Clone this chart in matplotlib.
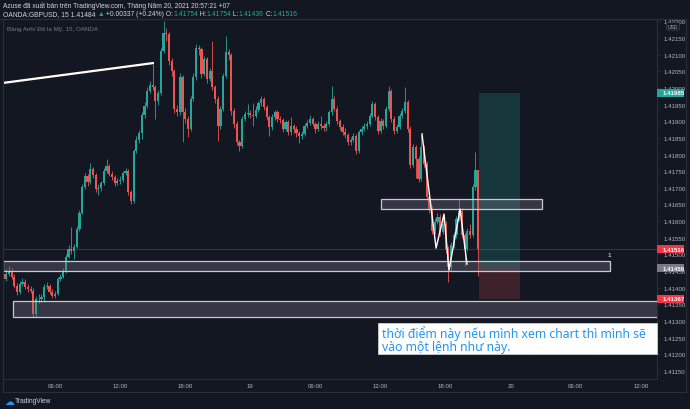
"""TradingView-style GBPUSD 15m chart with zones, position tool and a note."""

import matplotlib
matplotlib.use("Agg")
import matplotlib.pyplot as plt
from matplotlib.lines import Line2D
from matplotlib.patches import Rectangle
import numpy as np

plt.rcParams["font.family"] = ["Liberation Sans", "DejaVu Sans"]

BG = "#131722"
UP = "#26a69a"
DOWN = "#ef5350"
FRAME = "#2a2e39"
TXT = "#b2b5be"

# ---- data (15 minute candles, first candle at 18 May 01:15) ----
first_open = 1.41440
close = [
    1.41427, 1.41442, 1.41451, 1.41433, 1.41406, 1.41388, 1.41412, 1.41418, 1.41403, 1.41397,
    1.41391, 1.41322, 1.41367, 1.41365, 1.41373, 1.41403, 1.41406, 1.41388, 1.41376, 1.41382,
    1.41427, 1.41433, 1.41451, 1.41493, 1.41517, 1.41511, 1.41523, 1.41577, 1.41625, 1.41703,
    1.41736, 1.41718, 1.41757, 1.41739, 1.41697, 1.41700, 1.41715, 1.41751, 1.41766, 1.41742,
    1.41733, 1.41715, 1.41721, 1.41724, 1.41745, 1.41751, 1.41688, 1.41661, 1.41811, 1.41844,
    1.41865, 1.41919, 1.41946, 1.41991, 1.42009, 1.42003, 1.41961, 1.41985, 1.42111, 1.42165,
    1.42162, 1.42081, 1.42051, 1.41937, 1.41928, 1.42033, 1.41928, 1.41907, 1.41877, 1.41967,
    1.42033, 1.42120, 1.42117, 1.42042, 1.42087, 1.42027, 1.42051, 1.42003, 1.41967, 1.41886,
    1.41937, 1.42036, 1.42108, 1.42099, 1.41931, 1.41892, 1.41838, 1.41826, 1.41907, 1.41922,
    1.41925, 1.41920, 1.41917, 1.41934, 1.41955, 1.41967, 1.41943, 1.41913, 1.41883, 1.41913,
    1.41928, 1.41907, 1.41904, 1.41877, 1.41898, 1.41868, 1.41886, 1.41877, 1.41865, 1.41856,
    1.41862, 1.41886, 1.41895, 1.41907, 1.41892, 1.41877, 1.41892, 1.41886, 1.41880, 1.41892,
    1.41928, 1.41967, 1.41937, 1.41901, 1.41883, 1.41868, 1.41859, 1.41838, 1.41844, 1.41856,
    1.41811, 1.41868, 1.41877, 1.41886, 1.41892, 1.41916, 1.41952, 1.41913, 1.41871, 1.41901,
    1.41886, 1.41937, 1.41991, 1.41907, 1.41871, 1.41883, 1.41916, 1.41931, 1.41958, 1.41877,
    1.41769, 1.41823, 1.41787, 1.41727, 1.41823, 1.41772, 1.41673, 1.41637, 1.41571, 1.41598,
    1.41613, 1.41568, 1.41592, 1.41517, 1.41463, 1.41529, 1.41559, 1.41607, 1.41631, 1.41559,
    1.41517, 1.41571, 1.41559, 1.41703, 1.41754, 1.41516,
]
high = [
    1.41452, 1.41455, 1.41466, 1.41460, 1.41440, 1.41414, 1.41420, 1.41428, 1.41425, 1.41410,
    1.41405, 1.41398, 1.41375, 1.41380, 1.41382, 1.41412, 1.41418, 1.41412, 1.41395, 1.41390,
    1.41432, 1.41442, 1.41458, 1.41500, 1.41528, 1.41583, 1.41532, 1.41585, 1.41632, 1.41712,
    1.41745, 1.41742, 1.41775, 1.41763, 1.41745, 1.41712, 1.41722, 1.41760, 1.41787, 1.41772,
    1.41750, 1.41740, 1.41730, 1.41735, 1.41752, 1.41760, 1.41758, 1.41695, 1.41818, 1.41855,
    1.41875, 1.41928, 1.41958, 1.42002, 1.42020, 1.42072, 1.42010, 1.41995, 1.42120, 1.42201,
    1.42180, 1.42168, 1.42090, 1.42058, 1.41950, 1.42045, 1.42040, 1.41940, 1.41915, 1.41975,
    1.42045, 1.42132, 1.42130, 1.42122, 1.42095, 1.42092, 1.42060, 1.42141, 1.42010, 1.41975,
    1.41945, 1.42045, 1.42156, 1.42118, 1.42105, 1.41940, 1.41900, 1.41845, 1.41915, 1.41930,
    1.41952, 1.41935, 1.41955, 1.41945, 1.41962, 1.41976, 1.41972, 1.41950, 1.41920, 1.41922,
    1.41935, 1.41935, 1.41915, 1.41910, 1.41905, 1.41905, 1.41912, 1.41892, 1.41885, 1.41872,
    1.41870, 1.41895, 1.41903, 1.41920, 1.41912, 1.41898, 1.41900, 1.41915, 1.41895, 1.41900,
    1.41935, 1.42006, 1.41975, 1.41945, 1.41908, 1.41892, 1.41880, 1.41865, 1.41852, 1.41865,
    1.41862, 1.41875, 1.41885, 1.41895, 1.41902, 1.41925, 1.41960, 1.41958, 1.41920, 1.41910,
    1.41908, 1.41945, 1.42006, 1.41998, 1.41915, 1.41892, 1.41925, 1.41940, 1.42003, 1.41965,
    1.41885, 1.41832, 1.41830, 1.41795, 1.41860, 1.41830, 1.41780, 1.41680, 1.41645, 1.41610,
    1.41625, 1.41620, 1.41605, 1.41600, 1.41525, 1.41538, 1.41568, 1.41615, 1.41665, 1.41640,
    1.41565, 1.41580, 1.41590, 1.41712, 1.41808, 1.41754,
]
low = [
    1.41418, 1.41420, 1.41436, 1.41426, 1.41398, 1.41378, 1.41382, 1.41405, 1.41395, 1.41388,
    1.41383, 1.41313, 1.41313, 1.41355, 1.41358, 1.41358, 1.41395, 1.41380, 1.41368, 1.41370,
    1.41378, 1.41420, 1.41428, 1.41445, 1.41488, 1.41500, 1.41487, 1.41518, 1.41570, 1.41620,
    1.41698, 1.41705, 1.41712, 1.41730, 1.41688, 1.41680, 1.41692, 1.41710, 1.41745, 1.41735,
    1.41725, 1.41705, 1.41710, 1.41712, 1.41718, 1.41738, 1.41680, 1.41652, 1.41655, 1.41805,
    1.41835, 1.41847, 1.41910, 1.41940, 1.41985, 1.41995, 1.41907, 1.41950, 1.41978, 1.42105,
    1.42140, 1.42070, 1.42035, 1.41925, 1.41915, 1.41920, 1.41838, 1.41895, 1.41853, 1.41870,
    1.41960, 1.42025, 1.42100, 1.42030, 1.42035, 1.42015, 1.42020, 1.41995, 1.41955, 1.41841,
    1.41878, 1.41930, 1.42030, 1.42085, 1.41920, 1.41880, 1.41830, 1.41811, 1.41820, 1.41900,
    1.41912, 1.41910, 1.41886, 1.41910, 1.41928, 1.41945, 1.41935, 1.41905, 1.41856, 1.41875,
    1.41905, 1.41898, 1.41895, 1.41868, 1.41870, 1.41860, 1.41860, 1.41866, 1.41852, 1.41835,
    1.41848, 1.41855, 1.41880, 1.41890, 1.41885, 1.41865, 1.41870, 1.41878, 1.41870, 1.41872,
    1.41885, 1.41920, 1.41930, 1.41892, 1.41875, 1.41860, 1.41850, 1.41830, 1.41828, 1.41838,
    1.41802, 1.41805, 1.41860, 1.41870, 1.41878, 1.41885, 1.41910, 1.41905, 1.41862, 1.41865,
    1.41878, 1.41880, 1.41930, 1.41898, 1.41862, 1.41865, 1.41878, 1.41910, 1.41925, 1.41868,
    1.41760, 1.41762, 1.41730, 1.41718, 1.41720, 1.41762, 1.41662, 1.41625, 1.41560, 1.41562,
    1.41590, 1.41555, 1.41560, 1.41505, 1.41418, 1.41450, 1.41520, 1.41550, 1.41600, 1.41550,
    1.41466, 1.41510, 1.41548, 1.41552, 1.41695, 1.41436,
]

# drawings (time in hours from 18 May 00:00, price)
trend_t = [1.21, 15.12]
trend_p = [1.42015, 1.42075]
zigzag_t = [39.82, 41.12, 41.85, 42.31, 43.33, 43.97]
zigzag_p = [1.41862, 1.41519, 1.41621, 1.41453, 1.41636, 1.41471]
# zones: (t_start, t_end, price_low, price_high)
zones = [
    (1.21, 57.15, 1.41450, 1.41480),
    (2.13, 61.60, 1.41312, 1.41360),
    (36.05, 50.88, 1.41636, 1.41667),
]
pos_t = [45.08, 48.86]
pos_target, pos_entry, pos_stop = 1.41985, 1.41459, 1.41367
last_price = 1.41516

tick_t = [6, 12, 18, 24, 30, 36, 42, 48, 54, 60]
tick_lab = ["06:00", "12:00", "18:00", "19", "06:00", "12:00", "18:00", "20", "06:00", "12:00"]
price_ticks = np.arange(1.41150, 1.42201, 0.0005)

note_lines = ["thời điểm này nếu mình xem chart thì mình sẽ", "vào một lệnh như này."]

# ---- figure ----
W, H = 690, 410
fig = plt.figure(figsize=(W / 100, H / 100), dpi=100, facecolor=BG)
ax = fig.add_axes([3 / W, 30 / H, 654 / W, 360 / H], facecolor=BG)
ax.set_xlim(1.207, 61.48)
ax.set_ylim(1.41126, 1.42207)

close = np.array(close)
high = np.array(high)
low = np.array(low)
t = 1.25 + 0.25 * np.arange(len(close))
opens = np.r_[first_open, close[:-1]]
colors = np.where(close >= opens, UP, DOWN)
ax.vlines(t, low, high, colors=colors, linewidth=0.6, zorder=3)
ax.bar(t, np.maximum(np.abs(close - opens), 0.00002), bottom=np.minimum(opens, close),
       width=0.2, color=colors, linewidth=0, zorder=3)

# long position tool
ax.add_patch(Rectangle((pos_t[0], pos_entry), pos_t[1] - pos_t[0], pos_target - pos_entry,
                       fc=UP, alpha=0.22, ec="none", zorder=1))
ax.add_patch(Rectangle((pos_t[0], pos_stop), pos_t[1] - pos_t[0], pos_entry - pos_stop,
                       fc=DOWN, alpha=0.2, ec="none", zorder=1))

ax.axhline(last_price, color="#f23645", alpha=0.45, lw=0.6, zorder=2)

for t0, t1, p0, p1 in zones:
    ax.add_patch(Rectangle((t0, p0), t1 - t0, p1 - p0, fc=(0.47, 0.48, 0.53, 0.34),
                           ec="#c9cbd1", lw=0.9, zorder=4))
ax.text(57.06, 1.41492, "1", color="white", fontsize=4.5, ha="center", va="bottom", zorder=6)

ax.plot(trend_t, trend_p, color="white", lw=1.6, zorder=5, solid_capstyle="butt")
ax.plot(zigzag_t, zigzag_p, color="white", lw=1.0, zorder=5)

# note box
ax.add_patch(Rectangle((35.77, 1.41201), 61.48 - 35.77, 1.41294 - 1.41201,
                       fc="white", ec="#cccccc", lw=0.6, zorder=6, clip_on=False))
ax.text(36.1, 1.41267, note_lines[0], color="#2196f3", fontsize=8.8, family="Noto Sans",
        va="center", ha="left", zorder=7)
ax.text(36.1, 1.41224, note_lines[1], color="#2196f3", fontsize=8.8, family="Noto Sans",
        va="center", ha="left", zorder=7)

# axes style
for s in ["left", "top"]:
    ax.spines[s].set_color(FRAME)
    ax.spines[s].set_linewidth(0.8)
ax.spines["right"].set_color(FRAME)
ax.spines["bottom"].set_color(FRAME)
ax.set_xticks(tick_t)
ax.set_xticklabels(tick_lab)
ax.set_yticks(price_ticks)
ax.set_yticklabels([f"{p:.5f}" for p in price_ticks])
ax.yaxis.tick_right()
ax.tick_params(axis="x", length=0, pad=3, labelsize=4.4, labelcolor=TXT)
ax.tick_params(axis="y", length=2, width=0.5, color=FRAME, pad=3, labelsize=4.4, labelcolor=TXT)

yax = ax.get_yaxis_transform()


def price_tag(p, text, fc):
    ax.add_patch(Rectangle((1.0, p - 0.00012), 27 / 654, 0.00024, transform=yax, fc=fc,
                           ec="none", clip_on=False, zorder=10))
    ax.text(1.0 + 5.5 / 654, p, text, transform=yax, color="white", fontsize=4.4,
            fontweight="bold", va="center", ha="left", clip_on=False, zorder=11)


price_tag(pos_target, "1.41985", UP)
price_tag(last_price, "1.41516", "#f23645")
price_tag(pos_entry, "1.41459", "#787b86")
price_tag(pos_stop, "1.41367", "#f23645")
ax.text(1.0 + 16 / 654, 1.42185, "USD", transform=yax, color=TXT, fontsize=3.6, ha="center",
        va="center", clip_on=False, zorder=11,
        bbox=dict(boxstyle="round,pad=0.25", fc=BG, ec="#50535e", lw=0.4))

# outer frame
fig.add_artist(Line2D([0, 686 / W], [1 - 20 / H, 1 - 20 / H], color=FRAME, lw=0.8))
fig.add_artist(Line2D([686 / W, 686 / W], [1 - 393 / H, 1 - 20 / H], color=FRAME, lw=0.8))
fig.add_artist(Line2D([3 / W, 686 / W], [1 - 393 / H, 1 - 393 / H], color=FRAME, lw=0.8))
fig.add_artist(Line2D([3 / W, 3 / W], [1 - 393 / H, 1 - 20 / H], color=FRAME, lw=0.8))

# header texts
renderer = fig.canvas.get_renderer()


def text_runs(x, y, runs, size):
    for s, c in runs:
        txt = fig.text(x / W, 1 - y / H, s, color=c, fontsize=size, va="center", ha="left")
        x += txt.get_window_extent(renderer).width


text_runs(3, 6, [("Azuse đã xuất bản trên TradingView.com, Tháng Năm 20, 2021 20:57:21 +07", "#d1d4dc")], 4.8)
text_runs(3, 15, [("OANDA:GBPUSD, 15 1.41484 ", "#d1d4dc"), ("▲", UP), (" +0.00337 (+0.24%) O:", "#d1d4dc"),
                  ("1.41754", UP), (" H:", "#d1d4dc"), ("1.41754", UP), (" L:", "#d1d4dc"),
                  ("1.41436", UP), (" C:", "#d1d4dc"), ("1.41516", UP)], 4.9)
text_runs(7, 29, [("Bảng Anh/ Đô la Mỹ, 15, OANDA", "#787b86")], 4.5)

fig.text(9 / W, 1 - 402 / H, "☁", color="#2196f3", fontsize=7, family="DejaVu Sans", va="center", ha="center")
fig.text(15 / W, 1 - 402 / H, "TradingView", color="#d1d4dc", fontsize=4.8, va="center", ha="left")

fig.savefig("out.png", dpi=100, facecolor=BG)
